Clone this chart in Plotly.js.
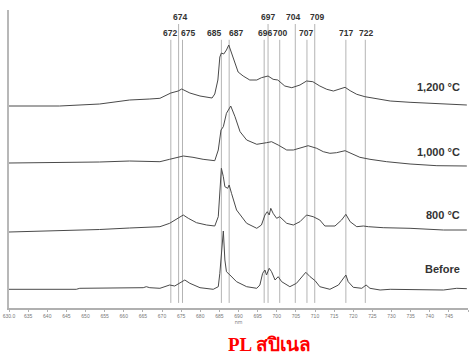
<!DOCTYPE html>
<html><head><meta charset="utf-8">
<script src="https://cdn.plot.ly/plotly-3.0.1.min.js"></script>
<style>html,body{margin:0;padding:0;background:#fff}#c{width:470px;height:356px}</style>
</head><body><div id="c"></div>
<script>
// Spectra (wavelength nm, relative intensity incl. stacking offset)
const wl1200 = [630.4,643.4,653.7,661.4,666.6,669.2,672,673.9,674.8,676.9,679.5,682.6,683.3,684.1,684.6,685.0,685.6,686.3,686.9,687.6,688.5,689.3,690.6,692.3,694.1,695.3,697.0,698.3,699.5,701.3,703.1,705.2,706.9,708.5,710.3,712.1,713.8,715.5,716.8,718.1,719.8,721.9,724.9,728.4,733.5,738.6,743.8,748.1];
const int1200 = [202,202,204,208,209,209.7,215,217,219,215,212,210,214,228,251,255,254,258,263,255,245,236,232,228,228,230.3,232,228.7,228,222,220.3,223,227,226.3,222,218.7,217,218.7,220.7,217.3,213.7,211.3,209,207,205.7,204.7,204,203];

const wl1000 = [630.4,643.4,653.7,661.4,669.2,671.7,675.2,677.7,680.3,683.3,684.2,684.9,685.5,686.3,687.4,688.5,689.8,691.5,694.1,696.6,697.9,699.6,701.8,703.5,705.2,707.3,709.5,711.2,712.9,714.6,716.8,718.5,720.6,723.2,727.5,733.5,740.4,748.1];
const int1000 = [145,145.5,146,147,146.3,148.7,152,150.7,148.7,147.3,158,178,181.3,194.7,202,191.3,176.3,168,163.7,165.3,166.3,163,158,158,159.7,162.3,159.7,156.3,154.7,155.3,157.3,154.7,150.7,148.7,146.3,144,142.3,142];

const wl800 = [630.4,643.4,653.7,661.4,669.2,671.7,673.9,675.2,676.5,678.6,681.2,683.3,684.2,684.6,685.0,685.5,685.9,686.6,687.0,687.6,688.9,691.5,694.1,695.3,696.2,696.8,697.3,697.7,698.3,699.2,700.0,701.8,703.5,705.2,706.9,708.6,710.3,711.6,714.2,715.9,717.0,718.1,719.8,721.5,722.8,726.6,733.5,742.1,748.1];
const int800 = [76,77,78.5,80,81.3,84.7,89.7,93,89.7,85.3,83,82,91.3,118,139.7,131.3,121.3,119.7,123,114.7,98,84.7,79.7,83,93,96.3,93,99.7,94.7,89.7,91.3,84.7,83,86.3,93,91.3,88,82,82,88,93.7,86.3,81.3,82,81.3,80.3,79.7,78,78];

const wlBefore = [630.4,647.7,648.6,664.9,665.7,666.6,669.2,671.7,673.0,674.3,675.6,676.9,679.5,682.9,684.2,684.6,685.0,685.5,685.9,686.3,687.2,688.9,691.5,694.1,694.9,695.6,696.2,696.6,697.3,697.9,698.8,699.6,700.5,702.6,704.3,705.6,706.7,707.8,709.1,710.3,712.9,715.1,716.3,717.0,717.6,718.9,721.1,722.2,723.2,725.8,728.4,733.5,742.1,745.5,748.1];
const intBefore = [18.7,18.7,19.7,20.3,21.3,20.3,19.7,23,22,25.3,28,24.7,20.3,18.7,21.3,34.7,58,77,48,36.3,33,26.3,21.3,19.7,23,34.7,38,33,39.7,36.3,28,31.3,26.3,21.3,24.7,31.3,35.7,31.3,27.3,21.3,18.7,23,28.7,33,26.3,20.7,19.7,23,19.7,18,18.7,18.7,18,19.7,19.3];

const seriesNames = ['1,200 °C','1,000 °C','800 °C','Before'];

// Peak markers (nm) and label rows
const peaksTop = [674, 697, 704, 709];
const peaksBottom = [672, 675, 685, 687, 696, 700, 707, 717, 722];

// Axis ticks
const tickVals = [630,635,640,645,650,655,660,665,670,675,680,685,690,695,700,705,710,715,720,725,730,735,740,745,750];
const tickText = ['630.0','635','640','645','650','655','660','665','670','675','680','685','690','695','700','705','710','715','720','725','730','735','740','745','750'];

const titleText = 'PL สปิเนล';
const xTitle = 'nm';

// label pixel nudges (layout only)
const shiftTop = {674:1, 697:0, 704:-2.5, 709:2};
const shiftBottom = {672:-1, 675:6, 685:-7.5, 687:6.5, 696:0.5, 700:0.5, 707:-1, 717:0, 722:1};

const lineStyle = {color:'#4a4a4a', width:1};
const traces = [
  [wl1200,int1200],[wl1000,int1000],[wl800,int800],[wlBefore,intBefore]
].map((d,i)=>({x:d[0], y:d[1], type:'scatter', mode:'lines', name:seriesNames[i],
  line:lineStyle, hoverinfo:'skip', showlegend:false}));
// carrier for the tick axis (draws nothing)
traces.push({x:[tickVals[0], tickVals[tickVals.length-1]], y:[null,null], xaxis:'x2', yaxis:'y',
  type:'scatter', mode:'lines', line:{width:0}, hoverinfo:'skip', showlegend:false});

const shapes = [];
peaksTop.forEach(p=>shapes.push({type:'line', xref:'x', yref:'paper', x0:p, x1:p, y0:0.017, y1:0.953,
  line:{color:'#b4b4b4', width:1}, layer:'below'}));
peaksBottom.forEach(p=>shapes.push({type:'line', xref:'x', yref:'paper', x0:p, x1:p, y0:0.017, y1:0.9,
  line:{color:'#b4b4b4', width:1}, layer:'below'}));

const pkFont = {family:'Liberation Sans, Arial, sans-serif', size:8.5, color:'#333'};
const annotations = [];
peaksTop.forEach(p=>annotations.push({x:p, xref:'x', y:0.977, yref:'paper', text:'<b>'+p+'</b>',
  showarrow:false, font:pkFont, xanchor:'center', yanchor:'middle', xshift:shiftTop[p]}));
peaksBottom.forEach(p=>annotations.push({x:p, xref:'x', y:0.923, yref:'paper', text:'<b>'+p+'</b>',
  showarrow:false, font:pkFont, xanchor:'center', yanchor:'middle', xshift:shiftBottom[p]}));

const labelY = [221.5, 156, 93, 39];
const lblFont = {family:'Liberation Sans, Arial, sans-serif', size:11, color:'#333'};
seriesNames.forEach((s,i)=>annotations.push({x:0.988, xref:'paper', y:labelY[i], yref:'y',
  text:'<b>'+s+'</b>', showarrow:false, font:lblFont, xanchor:'right', yanchor:'middle'}));

annotations.push({x:0.568, xref:'paper', y:-0.124, yref:'paper', text:'<b>'+titleText+'</b>',
  showarrow:false, xanchor:'center', yanchor:'middle',
  font:{family:'Liberation Serif, Times New Roman, serif', size:19, color:'#ff0000'}});

const layout = {
  width:470, height:356,
  margin:{l:9, r:2, t:10, b:48},
  paper_bgcolor:'#fff', plot_bgcolor:'#fff',
  showlegend:false,
  xaxis:{range:[630.4,748.4], showgrid:false, zeroline:false, showline:false, showticklabels:false, ticks:''},
  xaxis2:{overlaying:'x', anchor:'y', side:'bottom', range:[630,750], tickmode:'array', tickvals:tickVals, ticktext:tickText,
    showgrid:false, zeroline:false, showline:true, linecolor:'#b0b0b0', linewidth:1.5,
    ticks:'outside', ticklen:2, tickcolor:'#b0b0b0', tickfont:{size:5, color:'#777', family:'Liberation Sans, Arial'},
    title:{text:xTitle, font:{size:5, color:'#777'}, standoff:1}},
  yaxis:{range:[0,298], showgrid:false, zeroline:false, showline:true, linecolor:'#b8b8b8', linewidth:2,
    showticklabels:false, ticks:''},
  shapes:shapes, annotations:annotations
};
Plotly.newPlot('c', traces, layout, {displayModeBar:false, staticPlot:true});
</script></body></html>
